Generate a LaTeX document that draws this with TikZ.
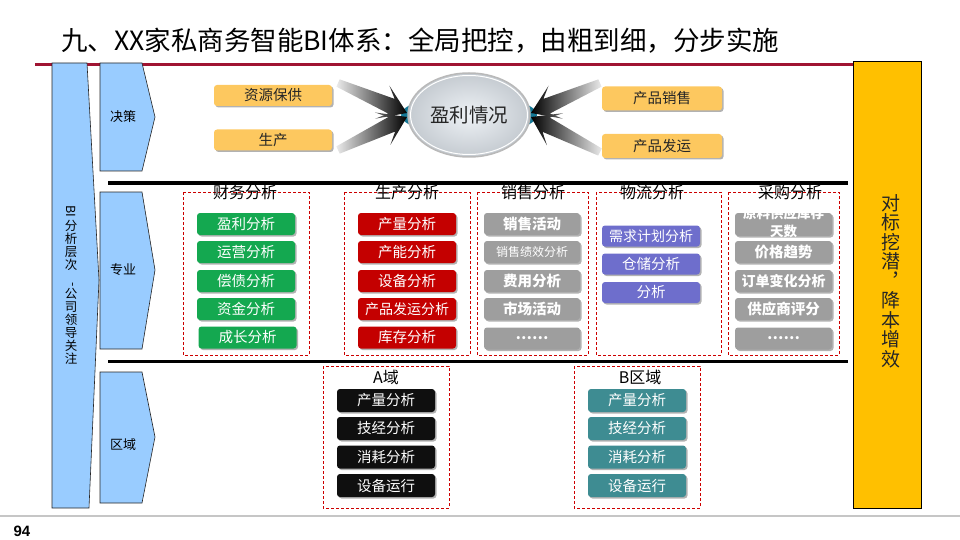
\documentclass[tikz,border=0pt]{standalone}
\usepackage{fontspec}
\setmainfont{Noto Sans CJK SC}
\newfontfamily\numfont{Liberation Sans}
\usetikzlibrary{shapes.geometric,shadows,calc}
\definecolor{chevblue}{RGB}{153,204,255}
\definecolor{titlered}{RGB}{160,20,50}
\definecolor{boxorange}{RGB}{253,200,95}
\definecolor{bgreen}{RGB}{20,168,80}
\definecolor{bred}{RGB}{196,0,0}
\definecolor{bgray}{RGB}{158,158,158}
\definecolor{bpurple}{RGB}{110,110,204}
\definecolor{bblack}{RGB}{15,15,15}
\definecolor{bteal}{RGB}{62,140,146}
\definecolor{eteal}{RGB}{20,120,150}
\definecolor{ygold}{RGB}{255,192,0}
\definecolor{elin}{RGB}{238,242,246}
\definecolor{elout}{RGB}{196,202,208}
\newcommand\fatarrow[3]{%
  \coordinate (fan) at ($(#2)!17pt!(#1)$);
  \coordinate (fah) at ($(#2)!27pt!(#1)$);
  \shade[#3] ($(#1)!4pt!90:(#2)$) -- ($(fan)!8pt!90:(#2)$) -- ($(fah)!18pt!90:(#2)$) -- (#2)
    -- ($(fah)!18pt!-90:(#2)$) -- ($(fan)!8pt!-90:(#2)$) -- ($(#1)!4pt!-90:(#2)$) -- cycle;
}
\tikzset{
  chev/.style={draw=black!85, fill=chevblue, line width=0.6pt},
  shad/.style={drop shadow={shadow xshift=1.5pt, shadow yshift=-1.5pt, opacity=0.3, fill=black}},
  bx/.style={shad, rounded corners=3pt, minimum width=98pt, minimum height=22pt, inner sep=0pt,
    text=white, font=\fontsize{14.5}{16}\selectfont},
  grn/.style={bx, fill=bgreen},
  rd/.style={bx, fill=bred},
  gy/.style={bx, fill=bgray, minimum width=96pt, font=\fontsize{14.5}{16}\selectfont\bfseries},
  pu/.style={bx, fill=bpurple, minimum height=21pt},
  bk/.style={bx, fill=bblack, minimum height=23pt},
  tl/.style={bx, fill=bteal, minimum height=23pt},
  ob/.style={shad, rounded corners=3pt, fill=boxorange, minimum width=118pt, minimum height=21pt,
    inner sep=0pt, text=black!85, font=\fontsize{14.5}{16}\selectfont},
  grp/.style={draw=red!80!black, densely dashed, line width=0.6pt},
  grptitle/.style={font=\fontsize{16}{18}\selectfont},
  chevtext/.style={font=\fontsize{13}{14}\selectfont},
}
\begin{document}
\begin{tikzpicture}[x=1pt,y=-1pt]
\useasboundingbox (0,0) rectangle (960,540);
% title
\node[anchor=west, font=\fontsize{26.5}{28}\selectfont, inner sep=0pt] (title) at (61,41)
  {九、XX家私商务智能BI体系：全局把控，由粗到细，分步实施};
\draw[titlered, line width=3pt] (35,65) -- (853,65);
% bottom line and page number
\draw[gray!45, line width=1.5pt] (0,516) -- (960,516);
\node[font=\numfont\fontsize{15}{15}\selectfont\bfseries, inner sep=0pt] (pg) at (22,531) {94};
% left column
\draw[chev] (52,63) -- (87,63) -- (99,280) -- (89,508) -- (52,508) -- cycle;
\node[align=center, font=\fontsize{12.5}{13}\selectfont, inner sep=0pt] (lefttext) at (71,285)
  {\rotatebox{-90}{BI}\\[2pt]分\\析\\层\\次\\\rotatebox{-90}{-}\\公\\司\\领\\导\\关\\注};
% chevrons
\draw[chev] (100,63) -- (142,63) -- (155,117) -- (142,171) -- (100,171) -- cycle;
\node[chevtext] (jc) at (123,117) {决策};
\draw[chev] (100,192) -- (142,192) -- (155,270) -- (142,349) -- (100,349) -- cycle;
\node[chevtext] (zy) at (123,270) {专业};
\draw[chev] (100,372) -- (142,372) -- (155,437) -- (142,503) -- (100,503) -- cycle;
\node[chevtext] (qy) at (123,445) {区域};
% separator lines
\draw[line width=3pt] (108,183) -- (848,183);
\draw[line width=3pt] (108,361) -- (848,361);
% right yellow column
\draw[fill=ygold, draw=black, line width=0.7pt] (853,61) rectangle (921,508);
\node[align=center, font=\fontsize{19}{19.5}\selectfont, text=black!85, inner sep=0pt] (ytext) at (891,281)
  {对\\标\\挖\\潜\\︐\\降\\本\\增\\效};
% decision layer
\node[ob] (o1) at (273,95.5) {资源保供};
\node[ob] (o2) at (273,140) {生产};
\node[ob, minimum width=120pt, minimum height=24pt] (o3) at (662,98.5) {产品销售};
\node[ob, minimum width=120pt, minimum height=24pt] (o4) at (662,146) {产品发运};
\fill[eteal] (469,115) ellipse [x radius=68, y radius=20];
\coordinate (a1) at (338,83);
\coordinate (a2) at (338,150);
\coordinate (a3) at (600,83);
\coordinate (a4) at (600,152);
\coordinate (tl1) at (407,113);
\coordinate (tl2) at (407,117);
\coordinate (tr1) at (531,113);
\coordinate (tr2) at (531,117);
\fatarrow{a1}{tl1}{left color=black!8, right color=black}
\fatarrow{a2}{tl2}{left color=black!8, right color=black}
\fatarrow{a3}{tr1}{left color=black, right color=black!8}
\fatarrow{a4}{tr2}{left color=black, right color=black!8}
\node[ellipse, minimum width=122pt, minimum height=84pt, draw=gray!55, line width=1.5pt,
  inner color=elin, outer color=elout, font=\fontsize{19.5}{21}\selectfont, text=black!85] (el) at (469,115) {盈利情况};
\draw[white, line width=1pt] (469,115) ellipse [x radius=58.5, y radius=39.5];
% professional layer groups
\draw[grp] (183,192) rectangle (309,355);
\node[grptitle] (t1) at (245,192) {财务分析};
\draw[grp] (344,192) rectangle (470,355);
\node[grptitle] (t2) at (407,192) {生产分析};
\draw[grp] (477,192) rectangle (588,355);
\node[grptitle] (t3) at (533,192) {销售分析};
\draw[grp] (596,192) rectangle (721,355);
\node[grptitle] (t4) at (652,192) {物流分析};
\draw[grp] (728,192) rectangle (839,355);
\node[grptitle] (t5) at (790,192) {采购分析};
% finance
\node[grn] (f1) at (246,224) {盈利分析};
\node[grn] (f2) at (246,252) {运营分析};
\node[grn] (f3) at (246,281) {偿债分析};
\node[grn] (f4) at (246,309) {资金分析};
\node[grn] (f5) at (247.5,337.5) {成长分析};
% production
\node[rd] (p1) at (407,224) {产量分析};
\node[rd] (p2) at (407,252) {产能分析};
\node[rd] (p3) at (407,281) {设备分析};
\node[rd, font=\fontsize{14}{16}\selectfont] (p4) at (407,309) {产品发运分析};
\node[rd] (p5) at (407,337.5) {库存分析};
% sales
\node[gy] (s1) at (532,224) {销售活动};
\node[gy, font=\fontsize{12}{14}\selectfont] (s2) at (532,252) {销售绩效分析};
\node[gy] (s3) at (532,281) {费用分析};
\node[gy] (s4) at (532,309) {市场活动};
\node[gy] (s5) at (532,338.5) {……};
% logistics
\node[pu, font=\fontsize{14}{16}\selectfont] (l1) at (651,236) {需求计划分析};
\node[pu] (l2) at (651,264) {仓储分析};
\node[pu] (l3) at (651,292.5) {分析};
% purchasing
\node[gy, minimum width=97pt, minimum height=23pt] (c1) at (783.5,224.5) {};
\node[align=center, text=white, inner sep=0pt, font=\fontsize{13.5}{17.5}\selectfont\bfseries] (c1t) at (783.5,222.5) {原料供应库存\\天数};
\node[gy, minimum width=97pt] (c2) at (783.5,252) {价格趋势};
\node[gy, minimum width=97pt, font=\fontsize{14}{16}\selectfont\bfseries] (c3) at (783.5,281) {订单变化分析};
\node[gy, minimum width=97pt] (c4) at (783.5,309) {供应商评分};
\node[gy, minimum width=97pt] (c5) at (783.5,338.5) {……};
% regional layer
\draw[grp] (323,366) rectangle (449,508);
\node[grptitle] (ta) at (386,377) {A域};
\node[bk] (ka1) at (386,400.5) {产量分析};
\node[bk] (ka2) at (386,428.5) {技经分析};
\node[bk] (ka3) at (386,457) {消耗分析};
\node[bk] (ka4) at (386,485.5) {设备运行};
\draw[grp] (574,366) rectangle (700,508);
\node[grptitle] (tb) at (640,377) {B区域};
\node[tl] (kb1) at (637,400.5) {产量分析};
\node[tl] (kb2) at (637,428.5) {技经分析};
\node[tl] (kb3) at (637,457) {消耗分析};
\node[tl] (kb4) at (637,485.5) {设备运行};
\end{tikzpicture}
\end{document}
